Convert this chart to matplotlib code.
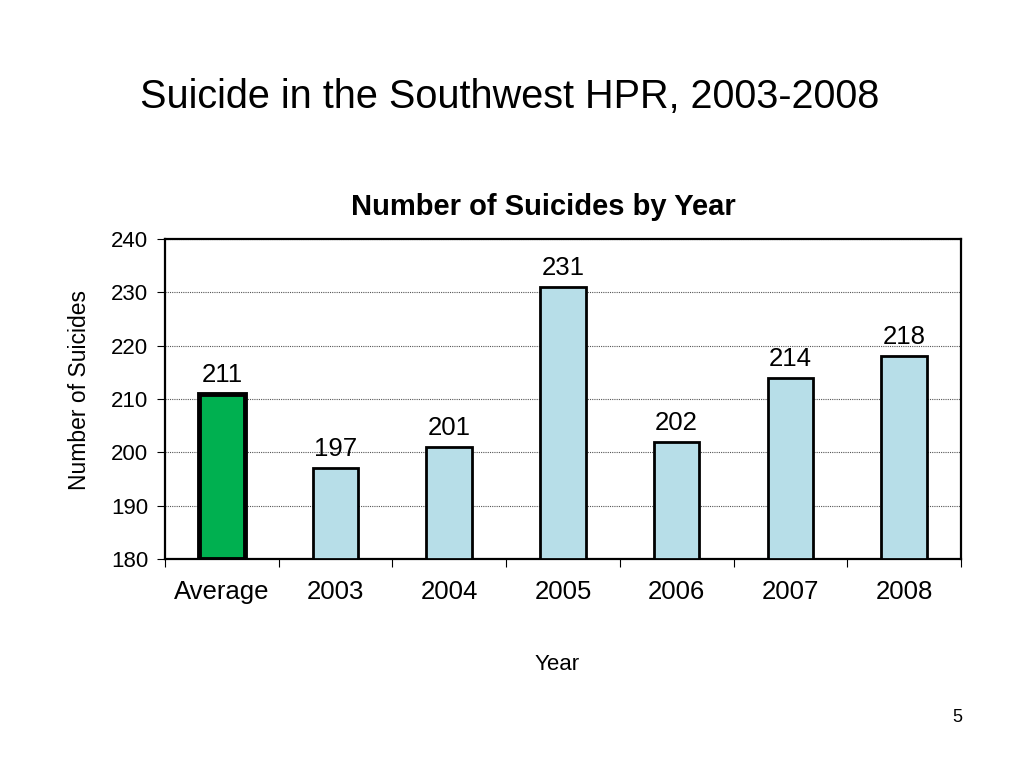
import matplotlib.pyplot as plt
import numpy as np

plt.rcParams['font.family'] = ['Liberation Sans', 'DejaVu Sans']

categories = ['Average', '2003', '2004', '2005', '2006', '2007', '2008']
suicides = [211, 197, 201, 231, 202, 214, 218]
yticks = [180, 190, 200, 210, 220, 230, 240]

fig = plt.figure(figsize=(10.24, 7.68), dpi=100)
fig.text(0.137, 0.874, 'Suicide in the Southwest HPR, 2003-2008', fontsize=28.5, va='center', ha='left')
fig.text(0.935, 0.066, '5', fontsize=13, ha='center', va='center')
fig.text(543 / 1024, 1 - 207 / 768, 'Number of Suicides by Year', fontsize=21, fontweight='bold',
         ha='center', va='center')
fig.text(80 / 1024, 1 - 390 / 768, 'Number of Suicides', fontsize=16.5, rotation=90,
         ha='center', va='center')
fig.text(557 / 1024, 1 - 665 / 768, 'Year', fontsize=16, ha='center', va='center')

ax = fig.add_axes([0.1611, 0.2721, 0.7773, 0.4167])
x = np.arange(len(categories))
colors = ['#00B050'] + ['#B7DEE8'] * (len(categories) - 1)
widths = [3.5] + [2.0] * (len(categories) - 1)
ax.bar(x, [v - 180 for v in suicides], bottom=180, width=0.4,
       color=colors, edgecolor='black', linewidth=widths, zorder=3)

for xi, v in zip(x, suicides):
    ax.annotate(str(v), (xi, v), xytext=(0, 5), textcoords='offset points',
                ha='center', va='bottom', fontsize=18.5)

ax.set_xlim(-0.5, len(categories) - 0.5)
ax.set_ylim(180, 240)
ax.set_yticks(yticks)
ax.set_yticklabels([str(t) for t in yticks], fontsize=16)
ax.set_xticks(np.arange(len(categories) + 1) - 0.5)
ax.set_xticklabels([])
ax.set_xticks(x, minor=True)
ax.set_xticklabels(categories, minor=True, fontsize=18.5)
ax.tick_params(axis='x', which='minor', length=0, pad=15)
ax.tick_params(axis='x', which='major', length=6, direction='out')
ax.tick_params(axis='y', length=6, direction='out', pad=6)
ax.yaxis.grid(True, linestyle=(0, (1, 1)), color='#555555', linewidth=0.8, zorder=0)
for s in ax.spines.values():
    s.set_linewidth(1.6)

fig.savefig('out.png', dpi=100)
